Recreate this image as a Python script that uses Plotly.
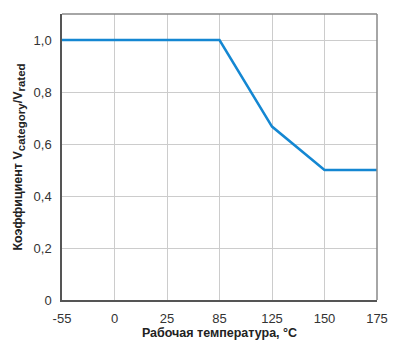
import plotly.graph_objects as go

categories = ["-55", "0", "25", "85", "125", "150", "175"]
values = [1.0, 1.0, 1.0, 1.0, 0.667, 0.5, 0.5]
y_ticks = [0, 0.2, 0.4, 0.6, 0.8, 1.0]
y_tick_labels = ["0", "0,2", "0,4", "0,6", "0,8", "1,0"]

fig = go.Figure()
fig.add_trace(go.Scatter(
    x=categories, y=values, mode="lines",
    line=dict(color="#1487d2", width=2.5),
    hoverinfo="skip",
))

font_family = "Liberation Sans, Arial, sans-serif"
fig.update_layout(
    width=400, height=354,
    margin=dict(l=62, r=19, t=14, b=54),
    paper_bgcolor="white", plot_bgcolor="white",
    showlegend=False,
    font=dict(family=font_family, size=13, color="#333333"),
    xaxis=dict(
        type="category", range=[0, 6],
        showgrid=True, gridcolor="#cccccc", gridwidth=1,
        showline=True, linecolor="#555555", linewidth=1.5, mirror=False,
        ticks="", tickfont=dict(size=13, color="#333333"),
        ticklabelstandoff=6,
        title=dict(text="<b>Рабочая температура, °C</b>", font=dict(size=12.5, color="#222222"), standoff=2),
        zeroline=False,
    ),
    yaxis=dict(
        range=[0, 1.1],
        tickvals=y_ticks, ticktext=y_tick_labels,
        showgrid=True, gridcolor="#cccccc", gridwidth=1,
        showline=True, linecolor="#555555", linewidth=1.5,
        ticks="", tickfont=dict(size=13, color="#333333"),
        ticklabelstandoff=6,
        title=dict(text="<b>Коэффициент V<sub><span style='font-size:11.5px'>category</span></sub>/V<sub><span style='font-size:11.5px'>rated</span></sub></b>",
                   font=dict(size=12.5, color="#222222"), standoff=8),
        zeroline=False,
    ),
    shapes=[
        dict(type="line", xref="paper", yref="paper", x0=0, x1=1, y0=1, y1=1,
             line=dict(color="#888888", width=1.5)),
        dict(type="line", xref="paper", yref="paper", x0=1, x1=1, y0=0, y1=1,
             line=dict(color="#888888", width=1.5)),
    ],
)

fig.write_html("out.html")
